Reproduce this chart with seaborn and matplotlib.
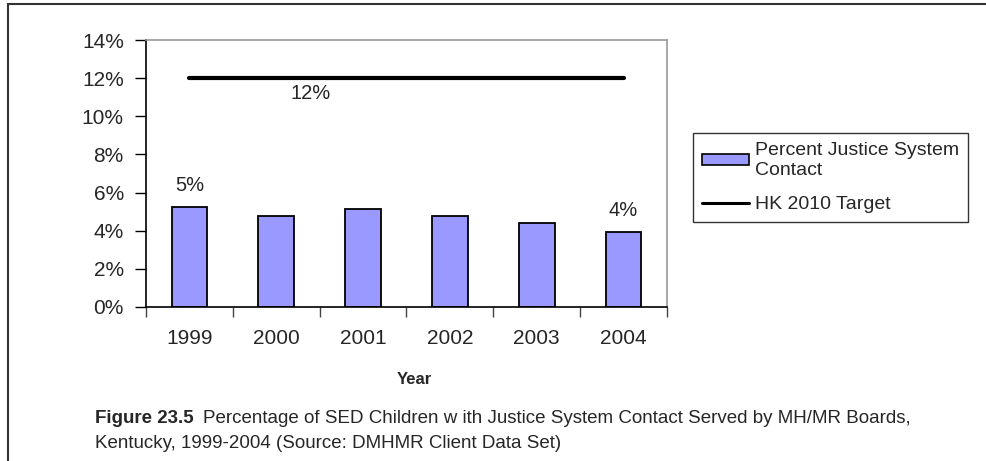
#!/usr/bin/env python3
"""
Percentage of SED children with justice system contact, Kentucky 1999-2004,
bars against the HK 2010 target line.
"""
import matplotlib
matplotlib.use('Agg')
import matplotlib.pyplot as plt
import matplotlib.patches as mpatches
import matplotlib.lines as mlines
import seaborn as sns
from matplotlib.ticker import FuncFormatter

years = ['1999', '2000', '2001', '2002', '2003', '2004']
justice_contact = [5.22, 4.75, 5.12, 4.75, 4.40, 3.93]
target = [12, 12, 12, 12, 12, 12]
y_ticks = [0, 2, 4, 6, 8, 10, 12, 14]

BAR_COLOUR = '#9999ff'
W, H = 987, 461

sns.set_style('white')
plt.rcParams['font.family'] = ['Liberation Sans', 'DejaVu Sans']

fig = plt.figure(figsize=(W / 100, H / 100), dpi=100)
ax = fig.add_axes([146 / W, 154 / H, 521 / W, 267 / H])

sns.barplot(x=years, y=justice_contact, color=BAR_COLOUR, width=0.41,
            edgecolor='black', linewidth=1.3, saturation=1, ax=ax)
ax.plot(range(len(years)), target, color='black', linewidth=3,
        solid_capstyle='round', zorder=3)

# data labels as in the source: first and last bar, and the target
ax.text(0, justice_contact[0] + 0.65, '5%', ha='center', va='bottom', fontsize=14.5)
ax.text(5, justice_contact[5] + 0.65, '4%', ha='center', va='bottom', fontsize=14.5)
ax.text(1.4, 11.2, '12%', ha='center', va='center', fontsize=14.5)

ax.set_xlim(-0.5, len(years) - 0.5)
ax.set_ylim(0, 14)
ax.set_yticks(y_ticks)
ax.yaxis.set_major_formatter(FuncFormatter(lambda v, p: '{0:g}%'.format(v)))
ax.tick_params(axis='y', direction='out', length=8, width=1, color='black',
               labelsize=15, pad=8, left=True)
# x ticks sit between the categories
ax.set_xticks([i - 0.5 for i in range(len(years) + 1)], minor=True)
ax.tick_params(axis='x', which='minor', direction='out', length=7, width=1,
               color='#444444', bottom=True)
ax.tick_params(axis='x', which='major', length=0, labelsize=15, pad=16)
ax.set_xlabel('')
ax.set_ylabel('')

for side in ['left', 'bottom']:
    ax.spines[side].set_color('black')
    ax.spines[side].set_linewidth(1.2)
for side in ['top', 'right']:
    ax.spines[side].set_color('#999999')
    ax.spines[side].set_linewidth(1.2)

fig.text(414 / W, 1 - 379 / H, 'Year', ha='center', va='center',
         fontsize=12, fontweight='bold')

# legend, anchored by its lower left corner
bar_handle = mpatches.Patch(facecolor=BAR_COLOUR, edgecolor='black', linewidth=1.2)
line_handle = mlines.Line2D([], [], color='black', linewidth=2.2)
leg = fig.legend([bar_handle, line_handle],
                 ['Percent Justice System\nContact', 'HK 2010 Target'],
                 loc='lower left', bbox_to_anchor=(693 / W, 1 - 222 / H),
                 frameon=True, fancybox=False, fontsize=14, handlelength=2.45,
                 handleheight=0.45, handletextpad=0.3, borderpad=0.45,
                 labelspacing=0.9, borderaxespad=0)
leg.get_texts()[0].set_linespacing(1.25)
leg.get_frame().set_edgecolor('black')
leg.get_frame().set_linewidth(1)

# caption: bold figure number, then the description
CAP_SIZE = 13.5
cap_bold = fig.text(95 / W, 1 - 418 / H, 'Figure 23.5', ha='left',
                    va='center', fontsize=CAP_SIZE, fontweight='bold')
fig.canvas.draw()
bb = cap_bold.get_window_extent()
fig.text((bb.x1 + 9) / W, 1 - 418 / H,
         'Percentage of SED Children w ith Justice System Contact Served by '
         'MH/MR Boards,', ha='left', va='center', fontsize=CAP_SIZE)
fig.text(95 / W, 1 - 443 / H,
         'Kentucky, 1999-2004 (Source: DMHMR Client Data Set)', ha='left',
         va='center', fontsize=CAP_SIZE)

# outer frame (only top and left edges show in the crop)
fig.add_artist(mpatches.Rectangle((8 / W, -0.1), 1.2, 1 - 4.5 / H + 0.1,
                                  transform=fig.transFigure, fill=False,
                                  edgecolor='#333333', linewidth=1.5))

fig.savefig('out.png', dpi=100)
